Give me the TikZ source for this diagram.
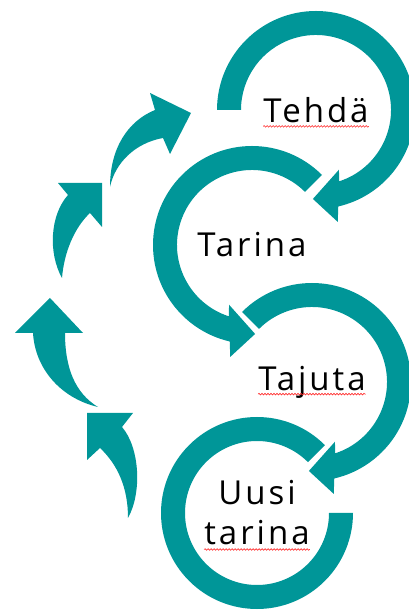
\documentclass[tikz,border=0pt]{standalone}
\usepackage{fontspec}
\setmainfont{Open Sans}[LetterSpace=9]
\usepackage{tikz}
\usetikzlibrary{positioning, decorations.pathmorphing}
\definecolor{cyclecol}{RGB}{0,150,152}

\begin{document}
\begin{tikzpicture}[
    x=1pt, y=1pt,
    ring/.style={fill=cyclecol},
    hop/.style={fill=cyclecol},
    word/.style={font=\fontsize{33}{40}\selectfont, inner sep=0pt, align=center},
    squiggle/.style={draw=red!85, line width=0.6pt, decorate,
        decoration={snake, segment length=3pt, amplitude=0.8pt}}
]
    \useasboundingbox (0,0) rectangle (408,613);

    % Tehdä
    \begin{scope}[shift={(316,503)}]
        \fill[ring] (180:99pt) arc[start angle=180, end angle=-77, radius=99pt]
            -- (-79:114pt) -- (-92:89pt) -- (-69:64pt) -- (-72:75pt)
            arc[start angle=-72, end angle=180, radius=75pt] -- cycle;
        \node[word] (tehda) at (0,0) {Tehdä};
        \draw[squiggle] ([yshift=-4pt]tehda.base west) -- ([yshift=-4pt]tehda.base east);
    \end{scope}

    % Tarina
    \begin{scope}[shift={(252,368)}]
        \fill[ring] (45:99pt) arc[start angle=45, end angle=257, radius=99pt]
            -- (259:114pt) -- (272:89pt) -- (249:64pt) -- (252:75pt)
            arc[start angle=252, end angle=45, radius=75pt] -- cycle;
        \node[word] (tarina) at (0,0) {Tarina};
    \end{scope}

    % Tajuta
    \begin{scope}[shift={(312,231)}]
        \fill[ring] (135:99pt) arc[start angle=135, end angle=-77, radius=99pt]
            -- (-79:114pt) -- (-92:89pt) -- (-69:64pt) -- (-72:75pt)
            arc[start angle=-72, end angle=135, radius=75pt] -- cycle;
        \node[word] (tajuta) at (0,0) {Tajuta};
        \draw[squiggle] ([yshift=-4pt]tajuta.base west) -- ([yshift=-4pt]tajuta.base east);
    \end{scope}

    % Uusi tarina
    \begin{scope}[shift={(257,100)}]
        \fill[ring] (45:96pt) arc[start angle=45, end angle=360, radius=96pt]
            -- (0:72pt) arc[start angle=360, end angle=45, radius=72pt] -- cycle;
        \node[word] (uusi) at (0,0) {Uusi\\tarina};
        \draw[squiggle] ([yshift=-4pt]uusi.south west) -- ([yshift=-4pt]uusi.south east);
    \end{scope}

    % back up the left side
    \fill[hop] (87,200) -- (133,200) -- (122,186)
        .. controls (140,165) and (142,120) .. (128,95)
        .. controls (128,125) and (118,148) .. (100,165) -- (87,153) -- cycle;
    \fill[hop] (50,315) -- (15,280) -- (33,280)
        .. controls (35,245) and (60,215) .. (98,206)
        .. controls (75,220) and (65,245) .. (65,280) -- (83,280) -- cycle;
    \fill[hop] (102,430) -- (58,430) -- (68,418)
        .. controls (50,398) and (48,360) .. (62,335)
        .. controls (64,360) and (74,385) .. (90,400) -- (102,386) -- cycle;
    \fill[hop] (191,500) -- (150,520) -- (155,503)
        .. controls (128,492) and (110,465) .. (110,426)
        .. controls (115,450) and (135,470) .. (163,475) -- (170,459) -- cycle;
\end{tikzpicture}
\end{document}
